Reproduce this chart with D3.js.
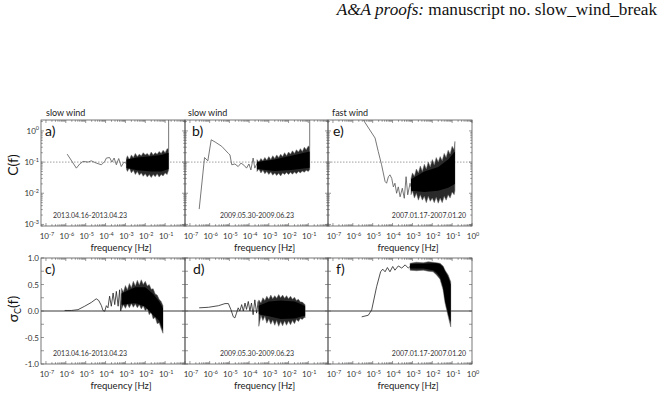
<!DOCTYPE html>
<html>
<head>
<meta charset="utf-8">
<script src="https://cdn.jsdelivr.net/npm/d3@7"></script>
<style>
body{margin:0;background:#fff;}
text{font-family:Lato,"Open Sans",sans-serif;fill:#222;}
</style>
</head>
<body>
<svg id="fig" width="665" height="396"></svg>
<script>
// ---- data: [frequency Hz, value] and bands [frequency, low, high] ----
var aLine = [[1.17e-6,0.18],[3.4e-6,0.064],[5.0e-6,0.087],[7.4e-6,0.105],[1.32e-5,0.10],[1.9e-5,0.11],[3.4e-5,0.093],[6.2e-5,0.082],[9.1e-5,0.105],[1.1e-4,0.135],[1.6e-4,0.14],[2.1e-4,0.10],[2.7e-4,0.135],[3.5e-4,0.082],[4.6e-4,0.13],[6.2e-4,0.072],[8.5e-4,0.10],[1.12e-3,0.09]];
var aBand = [[1.12e-3,0.06,0.13],[1.26e-3,0.05,0.16],[1.58e-3,0.065,0.12],[2.0e-3,0.045,0.17],[2.5e-3,0.055,0.14],[3.16e-3,0.04,0.19],[3.98e-3,0.05,0.15],[5.0e-3,0.038,0.18],[6.3e-3,0.045,0.16],[7.9e-3,0.035,0.2],[0.01,0.042,0.17],[0.0126,0.033,0.19],[0.0158,0.04,0.16],[0.02,0.032,0.21],[0.025,0.04,0.17],[0.0316,0.034,0.2],[0.0398,0.042,0.18],[0.05,0.033,0.22],[0.063,0.04,0.19],[0.079,0.036,0.24],[0.1,0.045,0.2],[0.126,0.04,0.27],[0.15,0.056,0.26]];
var aCore = [[1.12e-3,0.065,0.12],[4.0e-3,0.055,0.14],[0.02,0.05,0.155],[0.065,0.05,0.17],[0.15,0.06,0.2]];
var aSpike = [[0.15,0.26],[0.15,3]];

var bLine = [[2.95e-7,0.0031],[5.5e-7,0.14],[8.1e-7,0.11],[1.2e-6,0.52],[1.9e-6,0.44],[4.1e-6,0.32],[8.9e-6,0.19],[1.07e-5,0.17],[1.32e-5,0.082],[1.9e-5,0.087],[2.8e-5,0.072],[3.9e-5,0.093],[5.8e-5,0.077],[7.4e-5,0.064],[9.8e-5,0.087],[1.23e-4,0.056],[1.6e-4,0.135],[1.95e-4,0.064],[2.5e-4,0.09]];
var bBand = [[2.5e-4,0.05,0.12],[3.16e-4,0.06,0.10],[3.98e-4,0.045,0.13],[5.0e-4,0.055,0.11],[6.3e-4,0.042,0.14],[7.9e-4,0.05,0.115],[1.0e-3,0.04,0.15],[1.26e-3,0.048,0.12],[1.58e-3,0.038,0.16],[2.0e-3,0.045,0.13],[2.5e-3,0.037,0.17],[3.16e-3,0.044,0.14],[3.98e-3,0.036,0.18],[5.0e-3,0.045,0.15],[6.3e-3,0.04,0.2],[7.9e-3,0.046,0.16],[0.01,0.04,0.21],[0.0126,0.047,0.18],[0.0158,0.041,0.23],[0.02,0.048,0.19],[0.025,0.042,0.25],[0.0316,0.05,0.21],[0.0398,0.045,0.27],[0.05,0.052,0.22],[0.063,0.047,0.3],[0.079,0.055,0.25],[0.1,0.05,0.33],[0.118,0.058,0.3]];
var bCore = [[2.5e-4,0.06,0.1],[2.0e-3,0.052,0.12],[0.0138,0.056,0.16],[0.118,0.066,0.22]];
var bSpike = [[0.118,0.3],[0.118,3]];

var eLine = [[2.5e-6,3.5],[3.8e-6,2.0],[1.32e-5,0.59],[1.9e-5,0.22],[2.8e-5,0.082],[4.2e-5,0.024],[5.0e-5,0.021],[6.2e-5,0.034],[7.4e-5,0.039],[9.1e-5,0.030],[1.1e-4,0.016],[1.32e-4,0.021],[1.6e-4,0.010],[1.95e-4,0.016],[2.4e-4,0.0077],[3.1e-4,0.0145],[3.9e-4,0.0069],[4.8e-4,0.034],[5.8e-4,0.0089],[7.6e-4,0.021],[8.5e-4,0.016]];
var eBand = [[8.5e-4,0.009,0.03],[1.0e-3,0.012,0.045],[1.26e-3,0.007,0.035],[1.58e-3,0.01,0.06],[2.0e-3,0.006,0.045],[2.5e-3,0.009,0.075],[3.16e-3,0.006,0.05],[3.98e-3,0.008,0.085],[5.0e-3,0.005,0.06],[6.3e-3,0.008,0.1],[7.9e-3,0.0055,0.07],[0.01,0.007,0.12],[0.0126,0.005,0.08],[0.0158,0.0075,0.14],[0.02,0.0048,0.1],[0.025,0.007,0.15],[0.0316,0.005,0.11],[0.0398,0.008,0.19],[0.05,0.006,0.14],[0.063,0.009,0.24],[0.079,0.007,0.18],[0.1,0.011,0.32],[0.126,0.009,0.25],[0.138,0.012,0.46]];
var eCore = [[8.5e-4,0.012,0.028],[4.0e-3,0.011,0.05],[0.02,0.012,0.07],[0.063,0.015,0.12],[0.138,0.02,0.22]];

var cLine = [[8.7e-7,0.01],[1.9e-6,0.01],[4.1e-6,0.025],[8.9e-6,0.09],[1.9e-5,0.16],[3.4e-5,0.23],[4.5e-5,0.20],[6.2e-5,0.10],[7.4e-5,0.01],[9.1e-5,-0.005],[1.1e-4,0.10],[1.32e-4,0.06],[1.6e-4,0.28],[1.95e-4,0.09],[2.4e-4,0.34],[2.9e-4,0.12],[3.5e-4,0.37],[4.3e-4,0.09],[5.1e-4,0.40],[5.8e-4,0.0],[6.3e-4,0.2]];
var cBand = [[6.3e-4,0.03,0.43],[7.9e-4,0.12,0.36],[1.0e-3,0.05,0.48],[1.26e-3,0.13,0.40],[1.58e-3,0.06,0.52],[2.0e-3,0.14,0.44],[2.5e-3,0.07,0.56],[3.16e-3,0.13,0.47],[3.98e-3,0.06,0.58],[5.0e-3,0.12,0.49],[6.3e-3,0.04,0.59],[7.9e-3,0.1,0.5],[0.01,0.0,0.56],[0.0126,0.05,0.47],[0.0158,-0.07,0.5],[0.02,-0.02,0.41],[0.025,-0.15,0.42],[0.0316,-0.12,0.32],[0.0398,-0.24,0.3],[0.05,-0.22,0.22],[0.063,-0.33,0.18],[0.078,-0.42,0.1]];
var cCore = [[6.3e-4,0.12,0.33],[3.16e-3,0.15,0.45],[0.01,0.08,0.45],[0.025,-0.08,0.32],[0.05,-0.18,0.18],[0.078,-0.36,0.05]];

var dLine = [[2.95e-7,0.06],[8.7e-7,0.07],[2.8e-6,0.10],[6.0e-6,0.14],[8.9e-6,0.14],[1.2e-5,0.025],[1.58e-5,-0.11],[1.9e-5,-0.13],[2.3e-5,-0.04],[2.8e-5,0.06],[3.4e-5,0.0],[4.2e-5,0.12],[5.1e-5,0.0],[6.2e-5,0.15],[7.4e-5,0.03],[9.1e-5,0.18],[1.1e-4,0.0],[1.32e-4,0.15],[1.6e-4,-0.07],[1.95e-4,0.21],[2.4e-4,-0.04],[2.9e-4,0.18],[3.1e-4,0.0]];
var dBand = [[3.1e-4,-0.29,0.21],[3.98e-4,-0.08,0.15],[5.0e-4,-0.18,0.25],[6.3e-4,-0.1,0.2],[7.9e-4,-0.23,0.28],[1.0e-3,-0.15,0.22],[1.26e-3,-0.25,0.3],[1.58e-3,-0.17,0.23],[2.0e-3,-0.27,0.29],[2.5e-3,-0.18,0.24],[3.16e-3,-0.29,0.31],[3.98e-3,-0.2,0.25],[5.0e-3,-0.28,0.3],[6.3e-3,-0.19,0.24],[7.9e-3,-0.27,0.29],[0.01,-0.19,0.23],[0.0126,-0.26,0.28],[0.0158,-0.18,0.22],[0.02,-0.24,0.26],[0.025,-0.16,0.2],[0.0316,-0.2,0.22],[0.0398,-0.14,0.17],[0.05,-0.16,0.17],[0.063,-0.12,0.13],[0.069,-0.13,0.12]];
var dCore = [[3.1e-4,-0.06,0.1],[1.0e-3,-0.1,0.18],[4.0e-3,-0.15,0.2],[0.02,-0.14,0.18],[0.05,-0.1,0.12],[0.069,-0.09,0.09]];

var fLine = [[2.8e-6,-0.11],[6.0e-6,-0.08],[8.9e-6,0.02],[1.58e-5,0.46],[2.5e-5,0.74],[3.2e-5,0.79],[4.2e-5,0.74],[5.5e-5,0.82],[7.4e-5,0.74],[1.02e-4,0.84],[1.32e-4,0.77],[1.95e-4,0.85],[2.9e-4,0.81],[4.3e-4,0.87],[6.2e-4,0.81],[7.6e-4,0.84]];
var fBand = [[7.6e-4,0.77,0.90],[1.6e-3,0.76,0.92],[3.5e-3,0.77,0.91],[6.3e-3,0.75,0.93],[0.011,0.74,0.92],[0.0166,0.68,0.91],[0.0245,0.60,0.90],[0.035,0.40,0.85],[0.044,0.15,0.77],[0.063,-0.10,0.68],[0.085,-0.30,0.55]];
var fCore = [[7.6e-4,0.8,0.88],[3.5e-3,0.8,0.89],[0.011,0.77,0.9],[0.0166,0.72,0.9],[0.0245,0.64,0.88],[0.035,0.45,0.83],[0.044,0.2,0.75],[0.063,-0.05,0.64],[0.085,-0.22,0.5]];

var windTitles = ["slow wind","slow wind","fast wind"];
var dateLabels = ["2013.04.16-2013.04.23","2009.05.30-2009.06.23","2007.01.17-2007.01.20"];
var xExponents = [-7,-6,-5,-4,-3,-2,-1,0];
var yTopExponents = [-3,-2,-1,0];
var yBottomTicks = [-1.0,-0.5,0.0,0.5,1.0];

// ---- layout ----
var svg = d3.select("#fig");
var colX = [[41,185],[185,328],[328,472]];
var rowY = [[120,226],[258,364]];
var fMin = Math.pow(10,-7.25), fMax = 1;

var panels = [
  {id:"a",row:0,col:0,line:aLine,band:aBand,core:aCore,spike:aSpike,lx:4,dateX:53,anchor:"start"},
  {id:"b",row:0,col:1,line:bLine,band:bBand,core:bCore,spike:bSpike,lx:7,dateX:257,anchor:"middle"},
  {id:"e",row:0,col:2,line:eLine,band:eBand,core:eCore,spike:null,lx:5,dateX:466,anchor:"end"},
  {id:"c",row:1,col:0,line:cLine,band:cBand,core:cCore,spike:null,lx:4,dateX:53,anchor:"start"},
  {id:"d",row:1,col:1,line:dLine,band:dBand,core:dCore,spike:null,lx:8,dateX:257,anchor:"middle"},
  {id:"f",row:1,col:2,line:fLine,band:fBand,core:fCore,spike:null,lx:8,dateX:466,anchor:"end"}
];

// header
var head = svg.append("text")
  .attr("x",657).attr("y",14.5)
  .attr("text-anchor","end")
  .style("font-family","'Liberation Serif','DejaVu Serif',serif")
  .style("font-size","17.2px").style("fill","#111");
head.append("tspan").style("font-style","italic").text("A&A proofs:");
head.append("tspan").text(" manuscript no. slow_wind_break");

var defs = svg.append("defs");

function supLabel(sel,x,y,exp,anchor){
  var t = sel.append("text").attr("x",x).attr("y",y)
    .attr("text-anchor",anchor).style("font-size","8px").style("fill","#333");
  t.append("tspan").text("10");
  t.append("tspan").attr("dy",-3.5).style("font-size","5.5px").text(exp);
  return t;
}

panels.forEach(function(p){
  var x0 = colX[p.col][0], x1 = colX[p.col][1];
  var y0 = rowY[p.row][0], y1 = rowY[p.row][1];
  var x = d3.scaleLog().domain([fMin,fMax]).range([x0,x1]);
  var y = p.row==0
    ? d3.scaleLog().domain([Math.pow(10,-3.05),Math.pow(10,0.35)]).range([y1,y0])
    : d3.scaleLinear().domain([-1,1]).range([y1,y0]);

  defs.append("clipPath").attr("id","clip"+p.id)
    .append("rect").attr("x",x0).attr("y",y0).attr("width",x1-x0).attr("height",y1-y0);
  var g = svg.append("g").attr("class","panel");
  var plot = g.append("g").attr("clip-path","url(#clip"+p.id+")");

  // reference line
  if (p.row==0) {
    plot.append("line").attr("x1",x0).attr("x2",x1).attr("y1",y(0.1)).attr("y2",y(0.1))
      .style("stroke","#888").style("stroke-width",0.8).style("stroke-dasharray","1.5,1.5");
  }else{
    plot.append("line").attr("x1",x0).attr("x2",x1).attr("y1",y(0)).attr("y2",y(0))
      .style("stroke","#222").style("stroke-width",0.9);
  };

  var area = d3.area().x(function(d){return x(d[0])}).y0(function(d){return y(d[1])}).y1(function(d){return y(d[2])});
  var line = d3.line().x(function(d){return x(d[0])}).y(function(d){return y(d[1])});

  plot.append("path").datum(p.line).attr("d",line)
    .style("fill","none").style("stroke",p.row==0?"#555":"#222").style("stroke-width",0.8);
  plot.append("path").datum(p.band).attr("d",area)
    .style("fill","#2a2a2a").style("stroke","#666").style("stroke-width",0.5);
  plot.append("path").datum(p.core).attr("d",area).style("fill","#000");
  if (p.spike) {
    plot.append("path").datum(p.spike).attr("d",line)
      .style("fill","none").style("stroke","#555").style("stroke-width",0.8);
  };

  // frame
  g.append("rect").attr("x",x0).attr("y",y0).attr("width",x1-x0).attr("height",y1-y0)
    .style("fill","none").style("stroke","#555").style("stroke-width",0.8);

  // inward ticks along x
  var xt = [];
  for (var e=-7;e<=0;e++){ for (var k=1;k<10;k++){ var v=k*Math.pow(10,e); if (v>=fMin && v<=fMax) xt.push([v,k==1]); } }
  g.selectAll(".xt").data(xt).enter().append("path")
    .attr("d",function(d){var xx=x(d[0]),L=d[1]?3:1.8;return "M"+xx+","+y1+"v"+(-L)+"M"+xx+","+y0+"v"+L;})
    .style("stroke","#555").style("stroke-width",0.6);

  // inward ticks along y
  var yt = [];
  if (p.row==0) {
    for (var e2=-4;e2<=0;e2++){ for (var k2=1;k2<10;k2++){ var v2=k2*Math.pow(10,e2); if (v2>=y.domain()[0] && v2<=y.domain()[1]) yt.push([v2,k2==1]); } }
  }else{
    [-1,-0.75,-0.5,-0.25,0,0.25,0.5,0.75,1].forEach(function(v){yt.push([v,true]);});
  };
  g.selectAll(".yt").data(yt).enter().append("path")
    .attr("d",function(d){var yy=y(d[0]),L=d[1]?3:1.8;return "M"+x0+","+yy+"h"+L+"M"+x1+","+yy+"h"+(-L);})
    .style("stroke","#555").style("stroke-width",0.6);

  // x tick labels
  var labY = p.row==0 ? 239 : 377;
  xExponents.forEach(function(e){
    if (e==0 && p.col!=2) return;
    supLabel(g,x(Math.pow(10,e))+1,labY,String(e).replace("-","\u2010"),"middle");
  });
  g.append("text").attr("x",(x0+x1)/2+8).attr("y",p.row==0?251:389)
    .attr("text-anchor","middle").style("font-size","9.5px").text("frequency [Hz]");

  // y tick labels on the first column
  if (p.col==0) {
    if (p.row==0) {
      yTopExponents.forEach(function(e){
        supLabel(g,39,y(Math.pow(10,e))+3,String(e).replace("-","\u2010"),"end");
      });
    }else{
      yBottomTicks.forEach(function(v){
        g.append("text").attr("x",39).attr("y",y(v)+3).attr("text-anchor","end")
          .style("font-size","8px").style("fill","#333").text(d3.format(".1f")(v).replace("\u2212","-"));
      });
    };
  };

  // panel letter and date
  g.append("text").attr("x",x0+p.lx).attr("y",y0+16).style("font-size","14px").style("fill","#111").text(p.id+")");
  g.append("text").attr("x",p.dateX).attr("y",y1-8).attr("text-anchor",p.anchor)
    .style("font-size","7px").style("fill","#333").text(dateLabels[p.col]);
  if (p.row==0) {
    g.append("text").attr("x",x0+(p.col==0?5:p.col==1?3:4)).attr("y",116)
      .style("font-size","9px").style("fill","#222").text(windTitles[p.col]);
  };
});

// y axis titles
svg.append("text").attr("transform","translate(18,165) rotate(-90)")
  .attr("text-anchor","middle").style("font-size","14px").style("fill","#111").text("C(f)");
var sg = svg.append("text").attr("transform","translate(18,309) rotate(-90)")
  .attr("text-anchor","middle").style("font-size","14px").style("fill","#111");
sg.append("tspan").text("\u03c3");
sg.append("tspan").attr("dy",3).style("font-size","9px").text("C");
sg.append("tspan").attr("dy",-3).text("(f)");
</script>
</body>
</html>
